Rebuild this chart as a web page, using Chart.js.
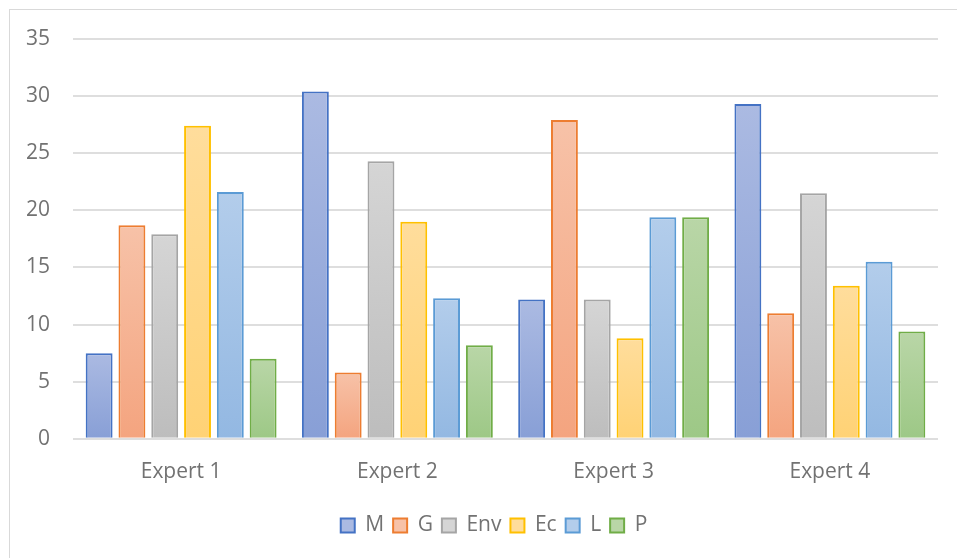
<!DOCTYPE html>
<html>
<head>
<meta charset="utf-8">
<script src="https://cdn.jsdelivr.net/npm/chart.js@4.4.1/dist/chart.umd.min.js"></script>
<style>
    html, body { margin: 0; padding: 0; background: #fff; overflow: hidden; }
    #frame {
        position: absolute; left: 9px; top: 9px;
        width: 1100px; height: 700px;
        border: 1px solid #d9d9d9;
    }
    #wrap { position: absolute; left: 0; top: 0; width: 957px; height: 558px; }
</style>
</head>
<body>
<div id="frame"></div>
<div id="wrap"><canvas id="chart" width="957" height="558"></canvas></div>
<script>
// Values
const categories = ['Expert 1', 'Expert 2', 'Expert 3', 'Expert 4'];
const seriesNames = ['M', 'G', 'Env', 'Ec', 'L', 'P'];
const valuesM   = [7.5, 30.4, 12.2, 29.3];
const valuesG   = [18.7, 5.8, 27.9, 11.0];
const valuesEnv = [17.9, 24.3, 12.2, 21.5];
const valuesEc  = [27.4, 19.0, 8.8, 13.4];
const valuesL   = [21.6, 12.3, 19.4, 15.5];
const valuesP   = [7.0, 8.2, 19.4, 9.4];
const yTicks = [0, 5, 10, 15, 20, 25, 30, 35];

// Office palette: border, gradient top, gradient bottom
const STYLES = [
    { border: '#4472C4', top: '#abbae2', bottom: '#889fd6' },
    { border: '#ED7D31', top: '#f7c2a8', bottom: '#f4a47f' },
    { border: '#A5A5A5', top: '#d5d5d5', bottom: '#bdbdbd' },
    { border: '#FFC000', top: '#ffdd9c', bottom: '#ffd275' },
    { border: '#5B9BD5', top: '#b3cdeb', bottom: '#93b8e2' },
    { border: '#70AD47', top: '#b9d6a7', bottom: '#9dc886' }
];

const TEXT_COLOR = '#727272';
const GRID_COLOR = '#dedede';
const FONT = { family: '"Open Sans", sans-serif', size: 21 };

// Each bar gets its own vertical gradient, like Excel's shape fill
function barGradient(style) {
    return function (ctx) {
        const chart = ctx.chart;
        const mid = style.bottom;
        if (ctx.type !== 'data' || !chart.chartArea || !chart.scales.y) return mid;
        const yScale = chart.scales.y;
        const topPx = yScale.getPixelForValue(ctx.raw);
        const basePx = yScale.getPixelForValue(0);
        if (!isFinite(topPx) || basePx - topPx < 1) return mid;
        const g = chart.ctx.createLinearGradient(0, topPx, 0, basePx);
        g.addColorStop(0, style.top);
        g.addColorStop(1, style.bottom);
        return g;
    };
}

// Legend in the reference sits a bit right of the canvas centre
const legendShift = {
    id: 'legendShift',
    afterLayout(chart) {
        if (!chart.legend) return;
        chart.legend.left += 25;
        chart.legend.right += 25;
    }
};

const allValues = [valuesM, valuesG, valuesEnv, valuesEc, valuesL, valuesP];

const datasets = seriesNames.map((name, i) => ({
    label: name,
    data: allValues[i],
    backgroundColor: barGradient(STYLES[i]),
    borderColor: STYLES[i].border,
    borderWidth: 2,
    borderSkipped: 'bottom',
    barPercentage: 0.82,
    categoryPercentage: 0.91
}));

new Chart(document.getElementById('chart').getContext('2d'), {
    type: 'bar',
    data: { labels: categories, datasets: datasets },
    plugins: [legendShift],
    options: {
        responsive: false,
        animation: false,
        devicePixelRatio: 1,
        layout: { padding: { top: 39, right: 19, left: 0, bottom: 12 } },
        plugins: {
            tooltip: { enabled: false },
            legend: {
                position: 'bottom',
                labels: {
                    color: TEXT_COLOR,
                    font: FONT,
                    boxWidth: 14,
                    boxHeight: 14,
                    padding: 9,
                    generateLabels: (chart) => chart.data.datasets.map((ds, i) => ({
                        text: ds.label,
                        fillStyle: STYLES[i].top,
                        strokeStyle: STYLES[i].border,
                        lineWidth: 2,
                        fontColor: TEXT_COLOR,
                        datasetIndex: i,
                        hidden: false
                    }))
                }
            }
        },
        scales: {
            x: {
                grid: { display: false, drawTicks: false },
                border: { display: false },
                ticks: { color: TEXT_COLOR, font: FONT, padding: 21 }
            },
            y: {
                min: 0,
                max: 35,
                afterFit: (scale) => { scale.width = 73; },
                afterBuildTicks: (scale) => { scale.ticks = yTicks.map(v => ({ value: v })); },
                grid: { color: GRID_COLOR, lineWidth: 2, drawTicks: false },
                border: { display: false },
                ticks: { color: TEXT_COLOR, font: FONT, padding: 23 }
            }
        }
    }
});
</script>
</body>
</html>
